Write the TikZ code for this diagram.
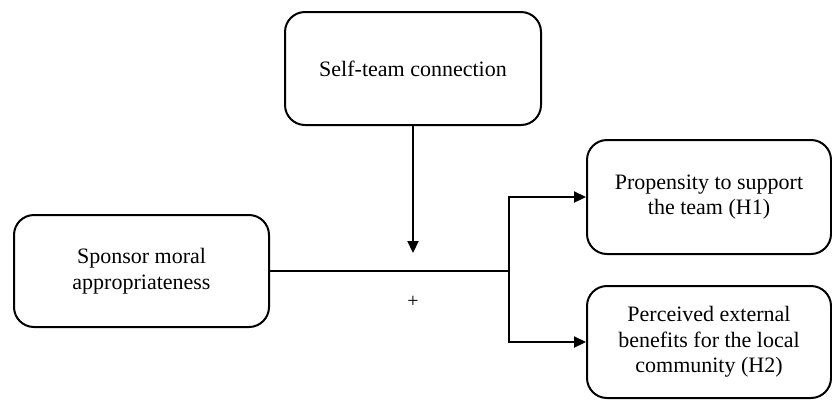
\documentclass[tikz,border=0pt]{standalone}
\usepackage{fontspec}
\setmainfont{Liberation Serif}
\usetikzlibrary{arrows.meta}
\begin{document}
\begin{tikzpicture}[x=1pt,y=-1pt,
  box/.style={draw, line width=2pt, rounded corners=20pt, inner sep=0pt, align=center,
    font=\fontsize{22}{25.5}\selectfont},
  conn/.style={line width=2.2pt},
  arr/.style={conn, -{Triangle[length=12pt,width=11pt]}}]
\useasboundingbox (0,0) rectangle (832,400);
\node[box, minimum width=256pt, minimum height=113pt] (self) at (413,68.5) {Self-team connection};
\node[box, minimum width=255pt, minimum height=112pt] (spon) at (141.5,271) {Sponsor moral\\appropriateness};
\node[box, minimum width=244pt, minimum height=114pt] (prop) at (709,197) {Propensity to support\\the team (H1)};
\node[box, minimum width=244pt, minimum height=112pt] (perc) at (709,342) {Perceived external\\benefits for the local\\community (H2)};
\coordinate (j) at (509,271);
\coordinate (tip) at (413,253);
\node[font=\fontsize{20}{24}\selectfont] (plus) at (413,302) {+};
\draw[conn] (spon.east) -- (j);
\draw[arr] (j) |- (prop.west);
\draw[arr] (j) |- (perc.west);
\draw[arr] (self.south) -- (tip);
\end{tikzpicture}
\end{document}
